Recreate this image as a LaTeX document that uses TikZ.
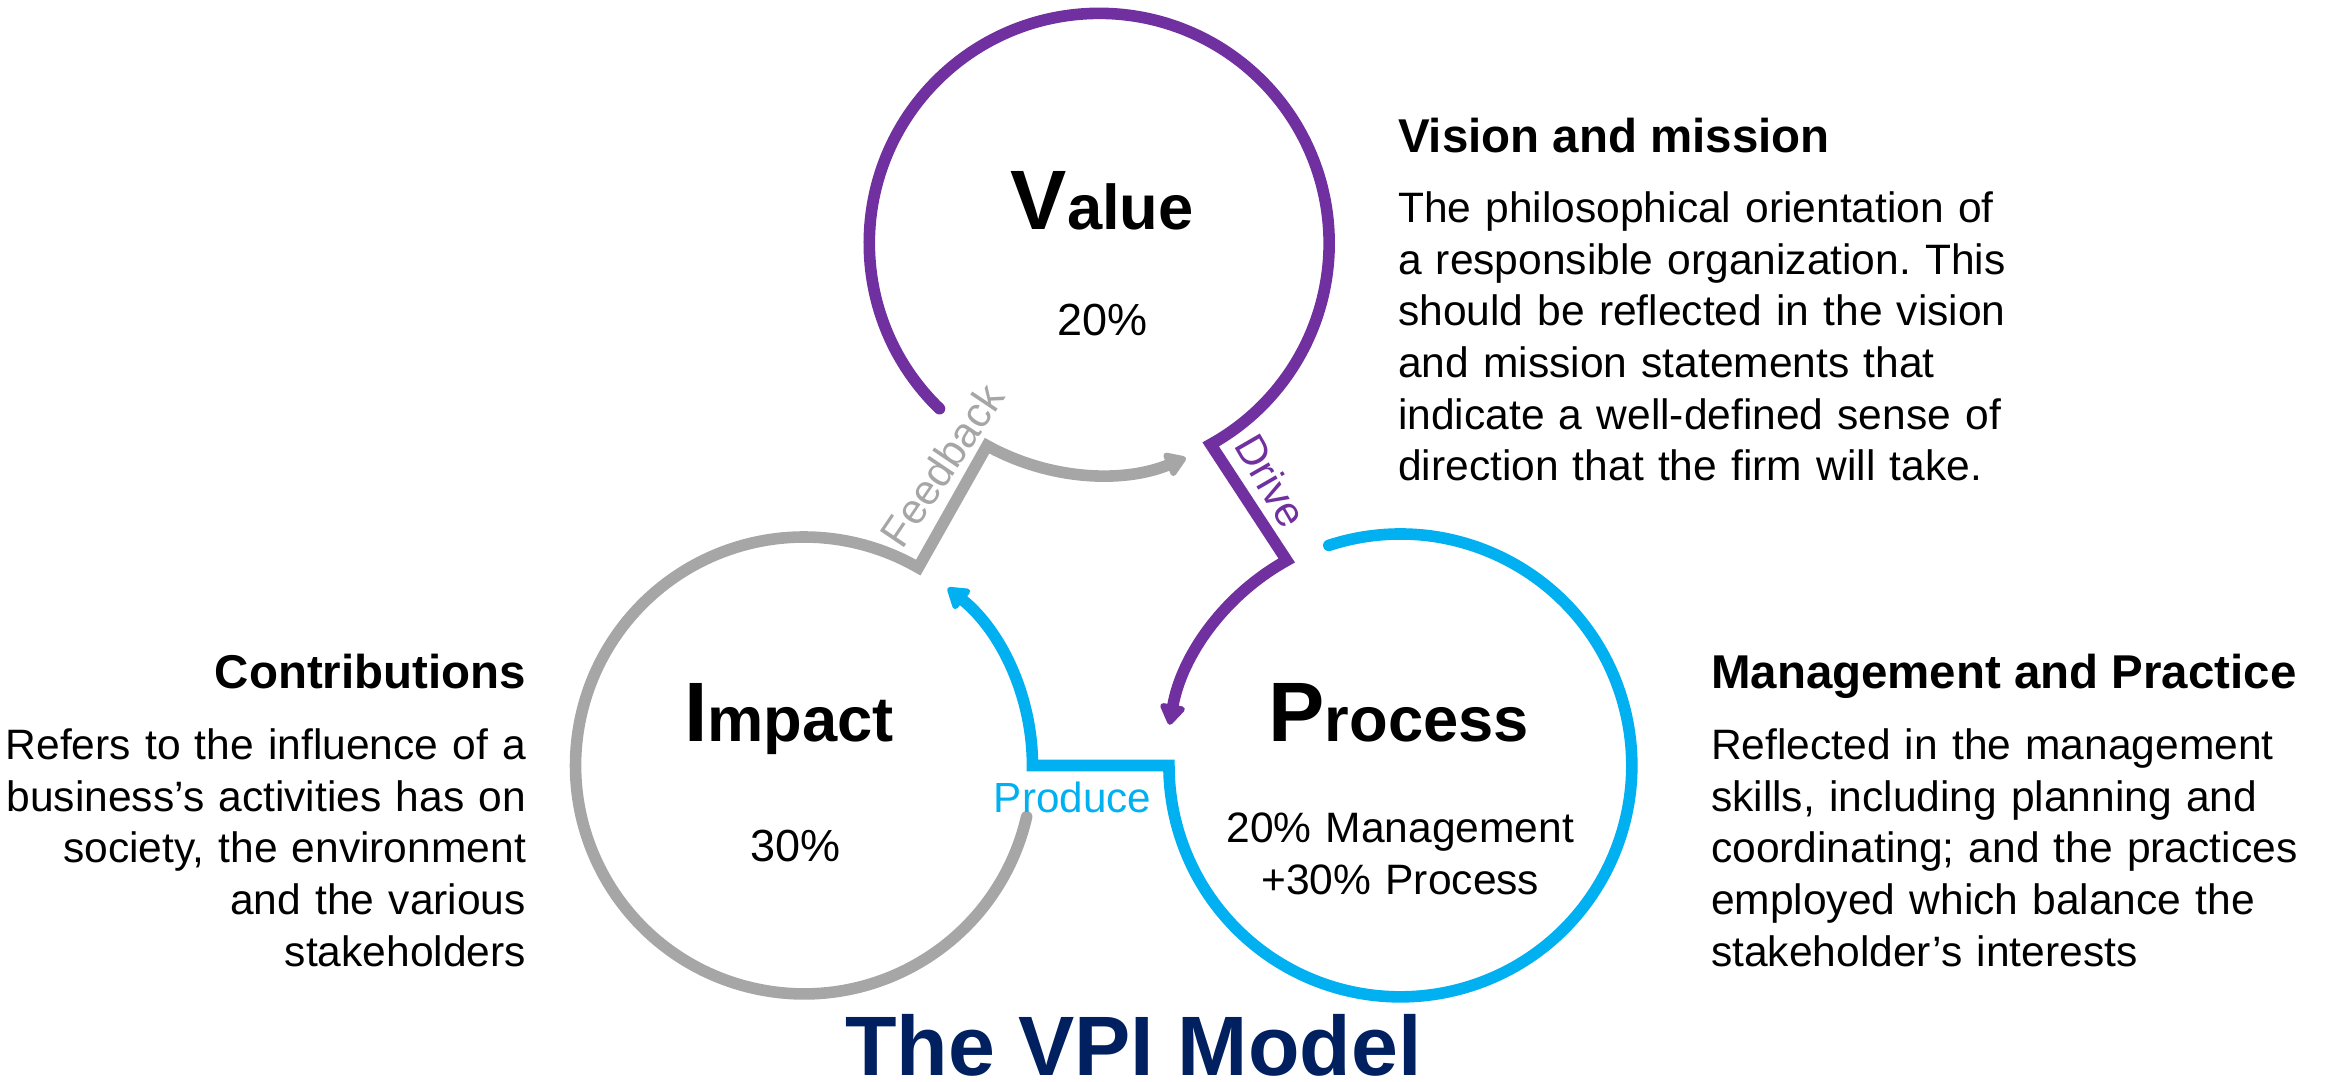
\documentclass[tikz,border=0pt]{standalone}
\usepackage{fontspec}
\setmainfont{Liberation Sans}
\usetikzlibrary{arrows.meta}
\frenchspacing

\definecolor{vpipurple}{HTML}{7030A0}
\definecolor{vpiblue}{HTML}{00B0F0}
\definecolor{vpigray}{HTML}{A6A6A6}
\definecolor{vpinavy}{HTML}{002060}

% big first letter, smaller rest
\newcommand{\ringtitle}[2]{{\fontsize{24pt}{24pt}\selectfont #1}{\fontsize{18pt}{18pt}\selectfont #2}}

\begin{document}
\begin{tikzpicture}[x=0.0148342cm, y=0.0148342cm,
		ring/.style={line width=3.3pt, line cap=round, line join=miter},
		tip/.style={-{Triangle[width=8pt,length=6.5pt,round]}},
		ringname/.style={inner sep=0pt, anchor=base, font=\bfseries},
		share/.style={inner sep=0pt, anchor=base, font=\fontsize{12.8pt}{15pt}\selectfont},
		flowlabel/.style={inner sep=0pt, font=\fontsize{12pt}{14pt}\selectfont},
		headline/.style={inner sep=0pt, font=\fontsize{13.5pt}{16pt}\selectfont\bfseries},
		bodytext/.style={inner sep=0pt, text width=#1, font=\fontsize{12.1pt}{14.7pt}\selectfont}]
		\useasboundingbox (0,0) rectangle (1568,729);
		
		% ring centres
		\coordinate (value) at (741,565);
		\coordinate (impact) at (542,213);
		\coordinate (process) at (944,213);
		
		% Value ring, Drive into Process
		\draw[ring, tip, vpipurple] ([shift={(226:155)}]value) arc[start angle=226, end angle=-61, radius=155]
			-- ([shift={(119:158)}]process) arc[start angle=119, end angle=170, radius=158];
		% Process ring, Produce into Impact
		\draw[ring, tip, vpiblue] ([shift={(108:156)}]process) arc[start angle=108, end angle=-180, radius=156]
			-- ([shift={(0:154)}]impact) arc[start angle=0, end angle=51, radius=154];
		% Impact ring, Feedback into Value
		\draw[ring, tip, vpigray] ([shift={(-13:154)}]impact) arc[start angle=-13, end angle=-300, radius=154]
			-- ([shift={(241:156)}]value) arc[start angle=241, end angle=292, radius=156];
		
		\node[flowlabel, vpigray, rotate=56] (feedback) at (635,415.5) {Feedback};
		\node[flowlabel, vpipurple, rotate=-60] (drive) at (857,405) {Drive};
		\node[flowlabel, vpiblue, anchor=base] (produce) at (723,181) {Produce};
		
		\node[ringname] (valuename) at (743,574) {\ringtitle{V}{alue}};
		\node[share] (valueshare) at (743,503) {20\%};
		\node[ringname] (impactname) at (532,229) {\ringtitle{I}{mpact}};
		\node[share] (impactshare) at (536,148) {30\%};
		\node[ringname] (processname) at (943,229) {\ringtitle{P}{rocess}};
		\node[share, text width=5cm, align=center, font=\fontsize{12.1pt}{14.7pt}\selectfont] (processshare) at (944,161) {20\% Management\\+30\% Process};
		
		\node[headline, anchor=base west] (visionhead) at (942,626.5) {Vision and mission};
		\node[bodytext=7cm, align=left, anchor=base west] (visionbody) at (942,579) {The philosophical orientation of\\
			a responsible organization. This\\
			should be reflected in the vision\\
			and mission statements that\\
			indicate a well-defined sense of\\
			direction that the firm will take.};
		
		\node[headline, anchor=base east] (contribhead) at (355,265) {Contributions};
		\node[bodytext=6cm, align=right, anchor=base east] (contribbody) at (355,217) {Refers to the influence of a\\
			business’s activities has on\\
			society, the environment\\
			and the various\\
			stakeholders};
		
		\node[headline, anchor=base west] (practicehead) at (1153,265) {Management and Practice};
		\node[bodytext=7cm, align=left, anchor=base west] (practicebody) at (1153,217) {Reflected in the management\\
			skills, including planning and\\
			coordinating; and the practices\\
			employed which balance the\\
			stakeholder’s interests};
		
		\node[inner sep=0pt, anchor=base, font=\fontsize{24pt}{24pt}\selectfont\bfseries, vpinavy] (vpititle) at (764,4) {The VPI Model};
\end{tikzpicture}
\end{document}
